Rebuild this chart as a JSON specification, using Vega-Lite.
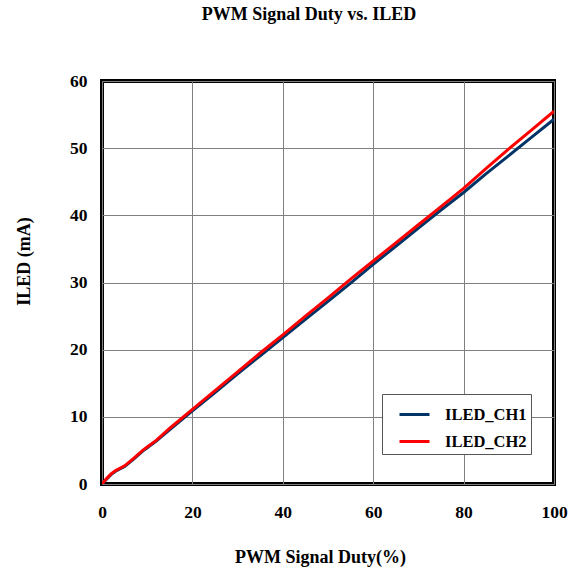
{
  "$schema": "https://vega.github.io/schema/vega-lite/v6.json",
  "autosize": {"type": "none"},
  "width": 452,
  "height": 403,
  "padding": {"left": 102, "top": 81, "right": 23, "bottom": 91},
  "background": "white",
  "title": {
    "text": "PWM Signal Duty vs. ILED",
    "font": "Liberation Serif",
    "fontSize": 18,
    "fontWeight": "bold",
    "color": "black",
    "anchor": "middle",
    "dx": -19,
    "offset": 48
  },
  "config": {
    "view": {"stroke": "black", "strokeWidth": 4},
    "axis": {
      "labelFont": "Liberation Serif",
      "labelFontSize": 17.5,
      "labelFontWeight": "bold",
      "labelColor": "black",
      "titleFont": "Liberation Serif",
      "titleFontSize": 18,
      "titleFontWeight": "bold",
      "titleColor": "black",
      "grid": true,
      "gridColor": "#808080",
      "gridWidth": 1,
      "ticks": false,
      "domain": false,
      "labelFlush": false
    }
  },
  "data": {
    "values": [
      {"duty": 0, "iled": 0, "ch": "ILED_CH1"},
      {"duty": 1, "iled": 0.7, "ch": "ILED_CH1"},
      {"duty": 2, "iled": 1.4, "ch": "ILED_CH1"},
      {"duty": 3, "iled": 1.9, "ch": "ILED_CH1"},
      {"duty": 5, "iled": 2.6, "ch": "ILED_CH1"},
      {"duty": 7, "iled": 3.7, "ch": "ILED_CH1"},
      {"duty": 9, "iled": 4.9, "ch": "ILED_CH1"},
      {"duty": 10, "iled": 5.4, "ch": "ILED_CH1"},
      {"duty": 12, "iled": 6.4, "ch": "ILED_CH1"},
      {"duty": 15, "iled": 8.1, "ch": "ILED_CH1"},
      {"duty": 20, "iled": 10.9, "ch": "ILED_CH1"},
      {"duty": 25, "iled": 13.6, "ch": "ILED_CH1"},
      {"duty": 30, "iled": 16.4, "ch": "ILED_CH1"},
      {"duty": 35, "iled": 19.1, "ch": "ILED_CH1"},
      {"duty": 40, "iled": 21.8, "ch": "ILED_CH1"},
      {"duty": 45, "iled": 24.5, "ch": "ILED_CH1"},
      {"duty": 50, "iled": 27.2, "ch": "ILED_CH1"},
      {"duty": 55, "iled": 29.9, "ch": "ILED_CH1"},
      {"duty": 60, "iled": 32.7, "ch": "ILED_CH1"},
      {"duty": 65, "iled": 35.4, "ch": "ILED_CH1"},
      {"duty": 70, "iled": 38.1, "ch": "ILED_CH1"},
      {"duty": 75, "iled": 40.8, "ch": "ILED_CH1"},
      {"duty": 80, "iled": 43.4, "ch": "ILED_CH1"},
      {"duty": 85, "iled": 46.2, "ch": "ILED_CH1"},
      {"duty": 90, "iled": 48.9, "ch": "ILED_CH1"},
      {"duty": 95, "iled": 51.6, "ch": "ILED_CH1"},
      {"duty": 100, "iled": 54.3, "ch": "ILED_CH1"},
      {"duty": 0, "iled": 0, "ch": "ILED_CH2"},
      {"duty": 1, "iled": 0.8, "ch": "ILED_CH2"},
      {"duty": 2, "iled": 1.5, "ch": "ILED_CH2"},
      {"duty": 3, "iled": 2.0, "ch": "ILED_CH2"},
      {"duty": 5, "iled": 2.7, "ch": "ILED_CH2"},
      {"duty": 7, "iled": 3.8, "ch": "ILED_CH2"},
      {"duty": 9, "iled": 5.0, "ch": "ILED_CH2"},
      {"duty": 10, "iled": 5.5, "ch": "ILED_CH2"},
      {"duty": 12, "iled": 6.5, "ch": "ILED_CH2"},
      {"duty": 15, "iled": 8.3, "ch": "ILED_CH2"},
      {"duty": 20, "iled": 11.1, "ch": "ILED_CH2"},
      {"duty": 25, "iled": 13.9, "ch": "ILED_CH2"},
      {"duty": 30, "iled": 16.7, "ch": "ILED_CH2"},
      {"duty": 35, "iled": 19.5, "ch": "ILED_CH2"},
      {"duty": 40, "iled": 22.2, "ch": "ILED_CH2"},
      {"duty": 45, "iled": 25.0, "ch": "ILED_CH2"},
      {"duty": 50, "iled": 27.7, "ch": "ILED_CH2"},
      {"duty": 55, "iled": 30.5, "ch": "ILED_CH2"},
      {"duty": 60, "iled": 33.2, "ch": "ILED_CH2"},
      {"duty": 65, "iled": 35.9, "ch": "ILED_CH2"},
      {"duty": 70, "iled": 38.6, "ch": "ILED_CH2"},
      {"duty": 75, "iled": 41.3, "ch": "ILED_CH2"},
      {"duty": 80, "iled": 44.0, "ch": "ILED_CH2"},
      {"duty": 85, "iled": 47.0, "ch": "ILED_CH2"},
      {"duty": 90, "iled": 49.9, "ch": "ILED_CH2"},
      {"duty": 95, "iled": 52.7, "ch": "ILED_CH2"},
      {"duty": 100, "iled": 55.5, "ch": "ILED_CH2"}
    ]
  },
  "mark": {"type": "line", "strokeWidth": 3, "clip": true},
  "encoding": {
    "x": {
      "field": "duty",
      "type": "quantitative",
      "scale": {"domain": [0, 100], "nice": false},
      "axis": {"values": [0, 20, 40, 60, 80, 100], "title": "PWM Signal Duty(%)", "labelPadding": 19, "titleX": 218, "titleY": 73, "titleBaseline": "middle"}
    },
    "y": {
      "field": "iled",
      "type": "quantitative",
      "scale": {"domain": [0, 60], "nice": false},
      "axis": {"values": [0, 10, 20, 30, 40, 50, 60], "title": "ILED (mA)", "labelPadding": 15, "titlePadding": 36, "titleY": 180}
    },
    "color": {
      "field": "ch",
      "type": "nominal",
      "scale": {"domain": ["ILED_CH1", "ILED_CH2"], "range": ["#003366", "#ff0000"]},
      "legend": {
        "title": null,
        "orient": "none",
        "legendX": 280,
        "legendY": 313,
        "symbolType": "stroke",
        "symbolSize": 900,
        "symbolStrokeWidth": 3,
        "symbolOffset": 12,
        "labelFont": "Liberation Serif",
        "labelFontSize": 16.5,
        "labelFontWeight": "bold",
        "labelColor": "black",
        "strokeColor": "#555555",
        "fillColor": "white",
        "padding": 4,
        "rowPadding": 2,
        "labelOffset": 14
      }
    }
  }
}
